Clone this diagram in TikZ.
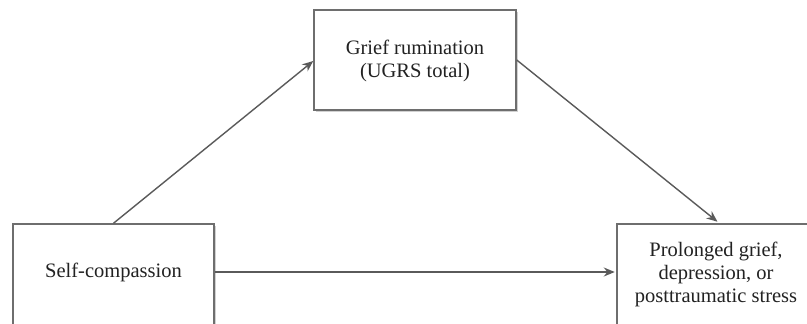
\documentclass[tikz,border=0pt]{standalone}
\usepackage{fontspec}
\setmainfont{Liberation Serif}
\usetikzlibrary{arrows.meta,shadows}
\definecolor{boxline}{HTML}{6E6E6E}
\definecolor{arrowline}{HTML}{5A5A5A}
\definecolor{txtcol}{HTML}{222222}
\begin{document}
\begin{tikzpicture}[x=1pt,y=-1pt,
  box/.style={draw=boxline,line width=1.5pt,fill=white,rectangle,inner sep=0pt,
    drop shadow={opacity=0.18,shadow xshift=1.8pt,shadow yshift=-1.8pt,fill=black}},
  txt/.style={align=center,text=txtcol,font=\fontsize{20.5}{23}\selectfont,inner sep=0pt},
  conn/.style={draw=arrowline,line width=1.4pt,-{Stealth[length=11pt,width=9pt]}}]
\clip (0,0) rectangle (807,324);
\fill[white] (0,0) rectangle (807,324);
% boxes
\node[box,minimum width=202pt,minimum height=100pt] (gr) at (415,60) {};
\node[box,minimum width=201pt,minimum height=104pt] (sc) at (113.5,276) {};
\node[box,minimum width=201pt,minimum height=104pt] (out) at (717.5,276) {};
% texts
\node[txt] (grt) at (415,61) {Grief rumination\\(UGRS total)};
\node[txt] (sct) at (113.5,272) {Self-compassion};
\node[txt] (outt) at (716,274) {Prolonged grief,\\depression, or\\posttraumatic stress};
% connectors
\draw[conn] (sc.north) -- ([yshift=-1pt]gr.west);
\draw[conn] (gr.east) -- ([yshift=1.5pt]out.north);
\draw[conn] (sc.east |- sct.center) -- ([xshift=-1.5pt]out.west |- sct.center);
\end{tikzpicture}
\end{document}
